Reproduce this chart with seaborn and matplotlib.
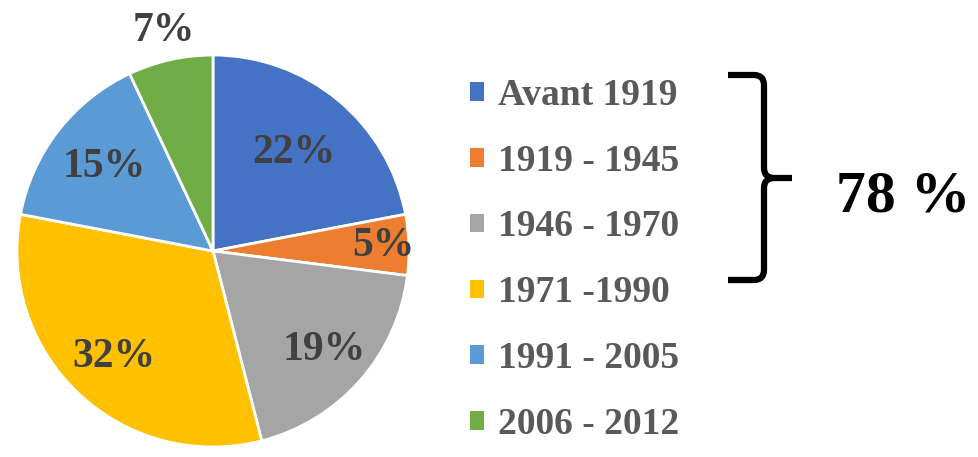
import numpy as np
import matplotlib.pyplot as plt
import seaborn as sns
from matplotlib.path import Path
from matplotlib.patches import PathPatch

# data
periods = ["Avant 1919", "1919 - 1945", "1946 - 1970", "1971 -1990", "1991 - 2005", "2006 - 2012"]
shares = [22, 5, 19, 32, 15, 7]
pct_labels = ["22%", "5%", "19%", "32%", "15%", "7%"]
bracket_label = "78 %"

colors = ["#4472C4", "#ED7D31", "#A5A5A5", "#FFC000", "#5B9BD5", "#70AD47"]
# radial position of each percentage label (fraction of radius)
label_dist = [0.65, 0.87, 0.76, 0.74, 0.70, 1.15]

sns.set_theme(style="white")
plt.rcParams['font.family'] = ['Liberation Serif', 'DejaVu Serif']

W, H = 979, 457
fig = plt.figure(figsize=(W / 100, H / 100), dpi=100)

# pie axes: centre at (213, 250) px, radius ~197 px
cx, cy, r = 213, 251, 196
ax = fig.add_axes([(cx - r) / W, (H - cy - r) / H, 2 * r / W, 2 * r / H])
wedges, _ = ax.pie(shares, colors=colors, startangle=90, counterclock=False,
                   radius=1, wedgeprops=dict(edgecolor="white", linewidth=2))
ax.set_xlim(-1, 1)
ax.set_ylim(-1, 1)
ax.set_aspect("equal")
ax.axis("off")

for w, lab, d in zip(wedges, pct_labels, label_dist):
    ang = np.deg2rad((w.theta1 + w.theta2) / 2)
    ax.text(d * np.cos(ang), d * np.sin(ang), lab, ha="center", va="center",
            fontsize=30, fontweight="bold", color="#404040", clip_on=False)

# legend
leg = fig.legend(wedges, periods, loc="upper left", bbox_to_anchor=(470 / W, 1 - 78 / H),
                 frameon=False, fontsize=27, handlelength=0.38, handleheight=0.38,
                 handletextpad=0.38, labelspacing=0.82, borderpad=0, borderaxespad=0)
for t in leg.get_texts():
    t.set_color("#595959")
    t.set_fontweight("bold")
for h in leg.legend_handles:
    h.set_edgecolor("none")

# bracket overlay in pixel coordinates
ov = fig.add_axes([0, 0, 1, 1])
ov.set_xlim(0, W)
ov.set_ylim(H, 0)
ov.axis("off")
ov.patch.set_alpha(0)

x0, xv, xt = 728, 764, 792
yt, ym, yb = 75, 178, 280
k = 10
verts = [(x0, yt), (xv - k, yt), (xv, yt), (xv, yt + k),
         (xv, ym - k), (xv, ym), (xv + k, ym), (xt, ym),
         (xv + k, ym), (xv, ym), (xv, ym + k),
         (xv, yb - k), (xv, yb), (xv - k, yb), (x0, yb)]
codes = [Path.MOVETO, Path.LINETO, Path.CURVE3, Path.CURVE3,
         Path.LINETO, Path.CURVE3, Path.CURVE3, Path.LINETO,
         Path.MOVETO, Path.CURVE3, Path.CURVE3,
         Path.LINETO, Path.CURVE3, Path.CURVE3, Path.LINETO]
ov.add_patch(PathPatch(Path(verts, codes), facecolor="none", edgecolor="black",
                       linewidth=4.5, capstyle="butt", joinstyle="round"))

ov.text(903, 197, bracket_label, ha="center", va="center", fontsize=43,
        fontweight="bold", color="black")

fig.savefig("out.png", dpi=100)
